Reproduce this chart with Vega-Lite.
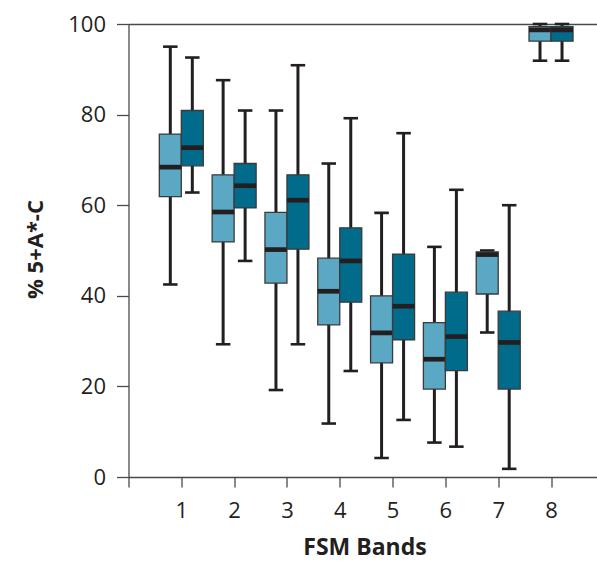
{
  "$schema": "https://vega.github.io/schema/vega-lite/v6.json",
  "width": 469,
  "height": 453,
  "autosize": {"type": "none"},
  "padding": {"left": 128.5, "top": 24, "right": 0, "bottom": 84},
  "background": "white",
  "config": {
    "view": {"stroke": null},
    "font": "Open Sans"
  },
  "data": {
    "values": [
      {"band": 1, "series": "A", "lower": 42.5, "q1": 61.9, "median": 68.4, "q3": 75.7, "upper": 95.0},
      {"band": 1, "series": "B", "lower": 62.8, "q1": 68.7, "median": 72.7, "q3": 80.9, "upper": 92.6},
      {"band": 2, "series": "A", "lower": 29.3, "q1": 51.9, "median": 58.5, "q3": 66.7, "upper": 87.6},
      {"band": 2, "series": "B", "lower": 47.7, "q1": 59.4, "median": 64.3, "q3": 69.2, "upper": 80.9},
      {"band": 3, "series": "A", "lower": 19.2, "q1": 42.8, "median": 50.2, "q3": 58.4, "upper": 80.9},
      {"band": 3, "series": "B", "lower": 29.3, "q1": 50.3, "median": 61.1, "q3": 66.7, "upper": 90.9},
      {"band": 4, "series": "A", "lower": 11.8, "q1": 33.6, "median": 41.0, "q3": 48.3, "upper": 69.2},
      {"band": 4, "series": "B", "lower": 23.4, "q1": 38.6, "median": 47.7, "q3": 55.0, "upper": 79.2},
      {"band": 5, "series": "A", "lower": 4.2, "q1": 25.2, "median": 31.8, "q3": 40.0, "upper": 58.3},
      {"band": 5, "series": "B", "lower": 12.6, "q1": 30.3, "median": 37.7, "q3": 49.2, "upper": 75.9},
      {"band": 6, "series": "A", "lower": 7.6, "q1": 19.4, "median": 26.0, "q3": 34.1, "upper": 50.8},
      {"band": 6, "series": "B", "lower": 6.7, "q1": 23.5, "median": 31.0, "q3": 40.8, "upper": 63.4},
      {"band": 7, "series": "A", "lower": 31.9, "q1": 40.4, "median": 49.1, "q3": 49.7, "upper": 50.0},
      {"band": 7, "series": "B", "lower": 1.8, "q1": 19.4, "median": 29.7, "q3": 36.6, "upper": 60.0},
      {"band": 8, "series": "A", "lower": 91.9, "q1": 96.2, "median": 98.7, "q3": 99.4, "upper": 100},
      {"band": 8, "series": "B", "lower": 91.9, "q1": 96.2, "median": 98.7, "q3": 99.4, "upper": 100}
    ]
  },
  "encoding": {
    "x": {
      "field": "band",
      "type": "quantitative",
      "scale": {"domain": [0, 8.88], "nice": false, "zero": false, "padding": 0},
      "axis": {
        "values": [0, 1, 2, 3, 4, 5, 6, 7, 8],
        "labelExpr": "datum.value == 0 ? '' : datum.label",
        "grid": false,
        "tickSize": 10,
        "tickColor": "#4a4a4a",
        "tickWidth": 1.3,
        "domainColor": "#4a4a4a",
        "domainWidth": 1.3,
        "labelFont": "Open Sans",
        "labelFontSize": 22,
        "labelColor": "#231f20",
        "labelBaseline": "alphabetic",
        "labelPadding": 30,
        "title": "FSM Bands",
        "titleFont": "Open Sans",
        "titleFontSize": 23,
        "titleFontWeight": "bold",
        "titleColor": "#231f20",
        "titleX": 236,
        "titleY": 77,
        "titleBaseline": "alphabetic",
        "titleAlign": "center"
      }
    }
  },
  "layer": [
    {
      "transform": [{"filter": "datum.series === 'A'"}],
      "layer": [
        {
          "mark": {"type": "rule", "xOffset": -11, "strokeWidth": 3, "color": "#231f20"},
          "encoding": {
            "y": {
              "field": "lower",
              "type": "quantitative",
              "scale": {"domain": [0, 100], "nice": false, "padding": 0},
              "axis": {
                "values": [0, 20, 40, 60, 80, 100],
                "tickSize": 12,
                "tickColor": "#4a4a4a",
                "tickWidth": 1.3,
                "domainColor": "#4a4a4a",
                "domainWidth": 1.3,
                "grid": true,
                "gridColor": "#4a4a4a",
                "gridWidth": 1.3,
                "gridOpacity": {"condition": {"test": "datum.value === 100", "value": 1}, "value": 0},
                "labelFont": "Open Sans",
                "labelFontSize": 22,
                "labelColor": "#231f20",
                "labelPadding": 11,
                "title": "% 5+A*-C",
                "titleFont": "Open Sans",
                "titleFontSize": 22,
                "titleFontWeight": "bold",
                "titleColor": "#231f20",
                "titleAngle": -90,
                "titleX": -86,
                "titleY": 225,
                "titleBaseline": "alphabetic",
                "titleAlign": "center"
              }
            },
            "y2": {"field": "upper"}
          }
        },
        {
          "mark": {"type": "tick", "orient": "horizontal", "xOffset": -11, "size": 14.5, "thickness": 2.6, "color": "#231f20", "opacity": 1},
          "encoding": {"y": {"field": "upper", "type": "quantitative"}}
        },
        {
          "mark": {"type": "tick", "orient": "horizontal", "xOffset": -11, "size": 14.5, "thickness": 2.6, "color": "#231f20", "opacity": 1},
          "encoding": {"y": {"field": "lower", "type": "quantitative"}}
        },
        {
          "mark": {"type": "bar", "orient": "vertical", "xOffset": -11, "size": 22, "stroke": "#3a3a3a", "strokeWidth": 1.3},
          "encoding": {
            "y": {"field": "q1", "type": "quantitative"},
            "y2": {"field": "q3"},
            "color": {"field": "series", "type": "nominal", "scale": {"domain": ["A", "B"], "range": ["#5aa8c4", "#006b8b"]}, "legend": null}
          }
        },
        {
          "mark": {"type": "tick", "orient": "horizontal", "xOffset": -11, "size": 22, "thickness": 4.7, "color": "#231f20", "opacity": 1},
          "encoding": {"y": {"field": "median", "type": "quantitative"}}
        }
      ]
    },
    {
      "transform": [{"filter": "datum.series === 'B'"}],
      "layer": [
        {
          "mark": {"type": "rule", "xOffset": 11, "strokeWidth": 3, "color": "#231f20"},
          "encoding": {
            "y": {"field": "lower", "type": "quantitative"},
            "y2": {"field": "upper"}
          }
        },
        {
          "mark": {"type": "tick", "orient": "horizontal", "xOffset": 11, "size": 14.5, "thickness": 2.6, "color": "#231f20", "opacity": 1},
          "encoding": {"y": {"field": "upper", "type": "quantitative"}}
        },
        {
          "mark": {"type": "tick", "orient": "horizontal", "xOffset": 11, "size": 14.5, "thickness": 2.6, "color": "#231f20", "opacity": 1},
          "encoding": {"y": {"field": "lower", "type": "quantitative"}}
        },
        {
          "mark": {"type": "bar", "orient": "vertical", "xOffset": 11, "size": 22, "stroke": "#3a3a3a", "strokeWidth": 1.3},
          "encoding": {
            "y": {"field": "q1", "type": "quantitative"},
            "y2": {"field": "q3"},
            "color": {"field": "series", "type": "nominal", "scale": {"domain": ["A", "B"], "range": ["#5aa8c4", "#006b8b"]}, "legend": null}
          }
        },
        {
          "mark": {"type": "tick", "orient": "horizontal", "xOffset": 11, "size": 22, "thickness": 4.7, "color": "#231f20", "opacity": 1},
          "encoding": {"y": {"field": "median", "type": "quantitative"}}
        }
      ]
    }
  ]
}
